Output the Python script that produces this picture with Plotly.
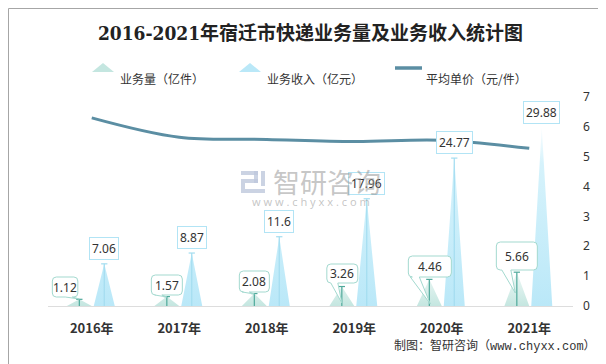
import plotly.graph_objects as go

# ---------------- data ----------------
years = ["2016年", "2017年", "2018年", "2019年", "2020年", "2021年"]
volume = [1.12, 1.57, 2.08, 3.26, 4.46, 5.66]          # 业务量（亿件）
revenue = [7.06, 8.87, 11.6, 17.96, 24.77, 29.88]      # 业务收入（亿元）
price = [6.30, 5.65, 5.58, 5.51, 5.55, 5.28]           # 平均单价（元/件）
right_ticks = [0, 1, 2, 3, 4, 5, 6, 7]

# ---------------- layout constants ----------------
W, H = 606, 364
ML, MR, MT, MB = 40, 41, 89, 66
PW, PH = W - ML - MR, H - MT - MB
BASE = H - MB


def px_x(p):
    return (p - ML) / PW


def px_y(p):
    return (BASE - p) / PH


VOL_OFF, VOL_HW = -0.142, 0.142
REV_OFF, REV_HW = 0.143, 0.12
CAP = 0.036

C_VOL = "rgba(196,230,224,1)"
C_REV = "rgba(186,232,248,1)"
C_VOL_LINE = "#4fa99b"
C_REV_LINE = "#a3ddf0"
C_PRICE = "#5b8ea3"
TXT = "#333333"
FONT = "Noto Sans, Noto Sans CJK SC, sans-serif"

idx = list(range(len(years)))

fig = go.Figure()


def tri_coords(values, off, hw):
    xs, ys = [], []
    for i, v in zip(idx, values):
        xs += [i + off - hw, i + off, i + off + hw, None]
        ys += [0, v, 0, None]
    return xs, ys


def tee_coords(values, off):
    xs, ys = [], []
    for i, v in zip(idx, values):
        xs += [i + off, i + off, None, i + off - CAP, i + off + CAP, None]
        ys += [0, v, None, v, v, None]
    return xs, ys


# volume triangles
vx, vy = tri_coords(volume, VOL_OFF, VOL_HW)
fig.add_trace(go.Scatter(
    x=vx, y=vy, mode="lines", fill="toself", line=dict(width=0),
    fillgradient=dict(type="vertical", start=0, stop=8,
                      colorscale=[[0, C_VOL], [1, "rgba(220,240,236,0.25)"]]),
    hoverinfo="skip", showlegend=False))

# revenue triangles
rx, ry = tri_coords(revenue, REV_OFF, REV_HW)
fig.add_trace(go.Scatter(
    x=rx, y=ry, mode="lines", fill="toself", line=dict(width=0),
    fillgradient=dict(type="vertical", start=0, stop=32,
                      colorscale=[[0, C_REV], [0.75, "rgba(200,238,250,0.75)"],
                                  [1, "rgba(225,245,252,0.05)"]]),
    hoverinfo="skip", showlegend=False))

# tee markers
tx, ty = tee_coords(volume, VOL_OFF)
fig.add_trace(go.Scatter(x=tx, y=ty, mode="lines",
                         line=dict(color=C_VOL_LINE, width=1.2),
                         hoverinfo="skip", showlegend=False))
tx, ty = tee_coords(revenue[:-1], REV_OFF)
fig.add_trace(go.Scatter(x=tx, y=ty, mode="lines",
                         line=dict(color=C_REV_LINE, width=1.2),
                         hoverinfo="skip", showlegend=False))

# average price line
fig.add_trace(go.Scatter(x=idx, y=price, yaxis="y2", mode="lines",
                         line=dict(color=C_PRICE, width=3, shape="spline"),
                         hoverinfo="skip", showlegend=False))

shapes = []
annotations = []

# revenue label boxes
for i, v in zip(idx, revenue):
    annotations.append(dict(
        x=i + REV_OFF, y=v, xref="x", yref="y", text=f"{v:g}",
        showarrow=False, yanchor="bottom", yshift=4,
        font=dict(size=12, color=TXT, family=FONT),
        bgcolor="white", bordercolor="#b2e4f5", borderwidth=1, borderpad=2))

# volume bubbles: (left, right, bottom, top, tail_a, tail_b, tip_x, tip_y) in px
bubbles = [
    (-27, -1.5, 9, 29, -14, -7, 0, 7),
    (-15.5, 15.5, 11, 31, -12, -5, 0, 9),
    (-15, 15, 14, 35, -12, -5, 0, 12),
    (-15, 16, 23, 42, -11, -4, 0, 3),
    (-21, 22, 29, 50, -19, -10, 1, 2),
    (-20.5, 20.5, 36, 64, -15, -6, -1.5, 13),
]
r = 4
for i, v, b in zip(idx, volume, bubbles):
    l, rr, bo, t, ta, tb, tx_, ty_ = b
    path = (f"M {l+r},{t} L {rr-r},{t} Q {rr},{t} {rr},{t-r} L {rr},{bo+r} "
            f"Q {rr},{bo} {rr-r},{bo} L {tb},{bo} L {tx_},{ty_} L {ta},{bo} "
            f"L {l+r},{bo} Q {l},{bo} {l},{bo+r} L {l},{t-r} Q {l},{t} {l+r},{t} Z")
    shapes.append(dict(type="path", xref="x", yref="y", xsizemode="pixel",
                       ysizemode="pixel", xanchor=i + VOL_OFF, yanchor=0,
                       path=path, fillcolor="white",
                       line=dict(color="#a3d9cf", width=1), layer="above"))
    annotations.append(dict(
        x=i + VOL_OFF, y=0, xref="x", yref="y", text=f"{v:g}", showarrow=False,
        xshift=(l + rr) / 2, yshift=(bo + t) / 2,
        font=dict(size=12, color=TXT, family=FONT)))

# watermark logo blocks
logo_col = "rgba(190,200,220,0.8)"
for x0, y0, x1, y1 in [(233, 163, 250, 167), (246, 163, 250, 175), (237, 171, 250, 175),
                       (233, 171, 237, 185), (237, 181, 257, 185), (253, 163, 257, 178)]:
    shapes.append(dict(type="rect", xref="paper", yref="paper",
                       x0=px_x(x0), x1=px_x(x1), y0=px_y(y1), y1=px_y(y0),
                       fillcolor=logo_col, line=dict(width=0), layer="below"))
annotations.append(dict(x=px_x(318.5), y=px_y(173), xref="paper", yref="paper",
                        text="智研咨询", showarrow=False,
                        font=dict(size=27, color="rgba(150,150,150,0.55)",
                                  family="Noto Sans CJK SC")))
annotations.append(dict(x=px_x(303), y=px_y(193), xref="paper", yref="paper",
                        text="w w w . c h y x x . c o m", showarrow=False,
                        font=dict(size=11, color="rgba(150,150,150,0.55)",
                                  family="Noto Sans")))

# legend (manual)
leg_y = 60
shapes.append(dict(type="path", xref="paper", yref="paper",
                   path=f"M {px_x(84)},{px_y(64)} L {px_x(95)},{px_y(55)} L {px_x(106)},{px_y(64)} Z",
                   fillcolor=C_VOL, line=dict(width=0)))
shapes.append(dict(type="path", xref="paper", yref="paper",
                   path=f"M {px_x(231)},{px_y(64)} L {px_x(242)},{px_y(55)} L {px_x(253)},{px_y(64)} Z",
                   fillcolor=C_REV, line=dict(width=0)))
shapes.append(dict(type="line", xref="paper", yref="paper",
                   x0=px_x(387), x1=px_x(414), y0=px_y(leg_y), y1=px_y(leg_y),
                   line=dict(color=C_PRICE, width=3.5)))
for xpos, txt in [(110, "业务量（亿件）"), (257, "业务收入（亿元）"), (416, "平均单价（元/件）")]:
    annotations.append(dict(x=px_x(xpos), y=px_y(leg_y), xref="paper", yref="paper",
                            text=txt, showarrow=False, xanchor="left",
                            font=dict(size=12, color=TXT, family="Noto Sans CJK SC")))

# source note
annotations.append(dict(x=px_x(590), y=px_y(348), xref="paper", yref="paper",
                        text="制图：智研咨询（www.chyxx.com）", showarrow=False,
                        xanchor="right",
                        font=dict(size=12, color=TXT,
                                  family="Liberation Mono, Noto Sans CJK SC")))

# outer frame
shapes.append(dict(type="rect", xref="paper", yref="paper",
                   x0=px_x(0.5), x1=px_x(W - 0.5), y0=px_y(H - 0.5), y1=px_y(0.5),
                   line=dict(color="#a6a6a6", width=1), fillcolor="rgba(0,0,0,0)"))

fig.update_layout(
    width=W, height=H,
    margin=dict(l=ML, r=MR, t=MT, b=MB),
    paper_bgcolor="white", plot_bgcolor="white",
    showlegend=False,
    title=dict(text="<b>2016-2021年宿迁市快递业务量及业务收入统计图</b>",
               x=0.5, xref="paper", y=1 - 25 / H, yref="container",
               xanchor="center", yanchor="middle",
               font=dict(size=19, color="#222222",
                         family="DejaVu Serif Condensed, Liberation Serif, Noto Sans CJK SC")),
    xaxis=dict(range=[-0.5, 5.5], tickvals=idx, ticktext=years,
               tickfont=dict(size=13, color=TXT, family="Noto Sans CJK SC", weight="bold"),
               showgrid=False, zeroline=False, showline=True, linecolor="#dddddd",
               linewidth=1, ticks="", ticklabelstandoff=10, fixedrange=True),
    yaxis=dict(range=[0, 35], visible=False, showgrid=False, zeroline=False),
    yaxis2=dict(range=[0, 7], overlaying="y", side="right", tickvals=right_ticks,
                showgrid=False, zeroline=False, showline=False, ticks="",
                tickfont=dict(size=12, color=TXT, family=FONT),
                ticklabelstandoff=9),
    shapes=shapes,
    annotations=annotations,
)

fig.write_html("out.html")
